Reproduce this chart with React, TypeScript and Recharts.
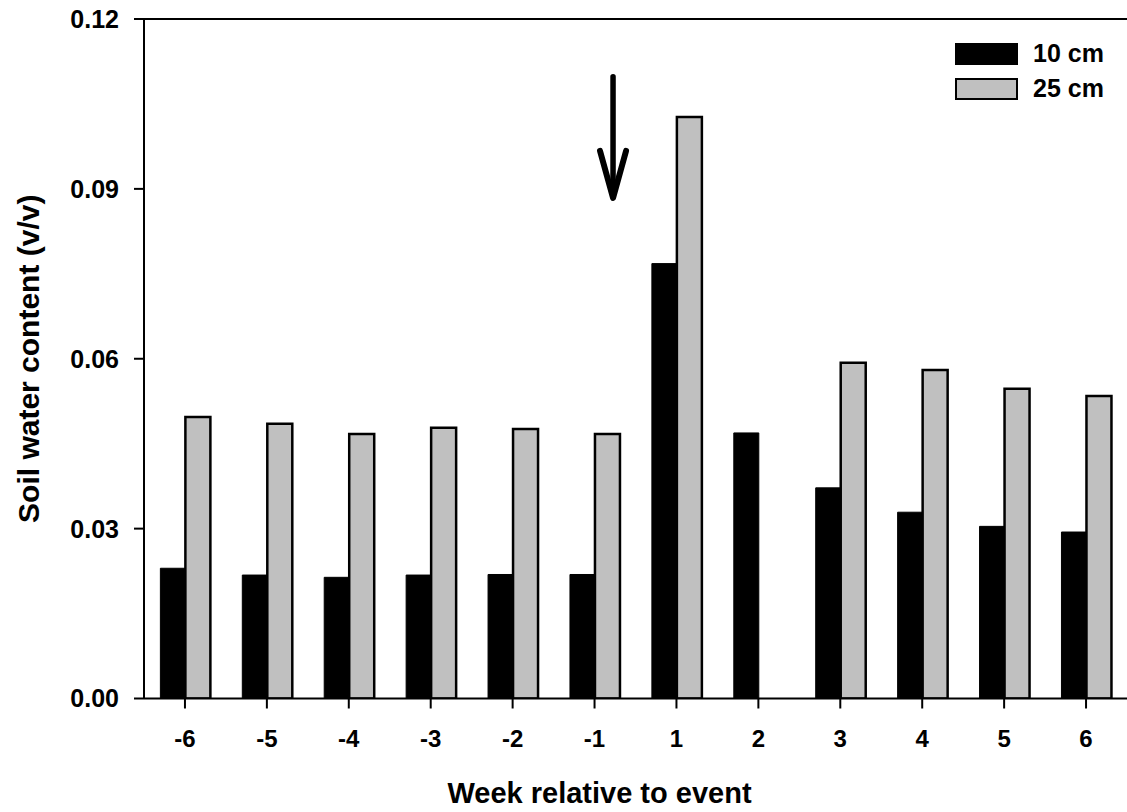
import React from "react";
import {
  BarChart,
  Bar,
  XAxis,
  YAxis,
  Legend,
  ReferenceLine,
  Label,
} from "recharts";

const weeks = ["-6", "-5", "-4", "-3", "-2", "-1", "1", "2", "3", "4", "5", "6"];
const depth10 = [0.023, 0.0218, 0.0214, 0.0218, 0.0219, 0.0219, 0.0768, 0.0469, 0.0372, 0.0329, 0.0304, 0.0294];
const depth25: (number | null)[] = [0.0497, 0.0485, 0.0467, 0.0478, 0.0476, 0.0467, 0.1027, null, 0.0593, 0.058, 0.0547, 0.0534];
const yTicks = [0, 0.03, 0.06, 0.09, 0.12];
const seriesNames = ["10 cm", "25 cm"];
// arrow annotation (event marker) in data units
const arrowWeek = "-1";
const arrowTop = 0.1098;
const arrowTip = 0.0884;

const data = weeks.map((w, i) => ({ week: w, d10: depth10[i], d25: depth25[i] }));

const FONT = '"Liberation Sans", Arial, Helvetica, sans-serif';

const ArrowShape = (props: any) => {
  const { x1, y1, x2, y2 } = props;
  const shift = 18.5;
  const x = (x1 + x2) / 2 + shift;
  const top = Math.min(y1, y2);
  const tip = Math.max(y1, y2);
  return (
    <g>
      <line x1={x} y1={top} x2={x} y2={tip - 3} stroke="#000" strokeWidth={5.5} strokeLinecap="round" />
      <polyline
        points={`${x - 13},${tip - 47} ${x},${tip} ${x + 13},${tip - 47}`}
        fill="none"
        stroke="#000"
        strokeWidth={6}
        strokeLinecap="round"
        strokeLinejoin="round"
      />
    </g>
  );
};

const LegendContent = (props: any) => {
  const payload = props.payload || [];
  return (
    <div style={{ fontFamily: FONT }}>
      {payload.map((p: any, i: number) => (
        <div key={i} style={{ display: "flex", alignItems: "center", height: 35 }}>
          <span
            style={{
              display: "inline-block",
              width: 63,
              height: 22,
              background: p.color,
              border: "2px solid #000",
              boxSizing: "border-box",
            }}
          />
          <span style={{ marginLeft: 15, fontSize: 25, fontWeight: "bold", color: "#000" }}>{p.value}</span>
        </div>
      ))}
    </div>
  );
};

export default function App() {
  return (
    <div style={{ position: "absolute", left: 0, top: 0, background: "#fff" }}>
      <BarChart
        width={1127}
        height={812}
        data={data}
        margin={{ top: 19, right: 0, bottom: 0, left: 0 }}
        barCategoryGap="20%"
        barGap={0}
      >
        <XAxis
          dataKey="week"
          height={113.5}
          axisLine={{ stroke: "#000", strokeWidth: 2 }}
          tickLine={{ stroke: "#000", strokeWidth: 2 }}
          tickSize={10}
          tickMargin={21}
          tick={{ fill: "#000", fontSize: 24, fontWeight: "bold", fontFamily: FONT }}
          interval={0}
        >
          <Label
            content={(p: any) => {
              const vb = p.viewBox;
              return (
                <text
                  x={vb.x + vb.width / 2 - 36}
                  y={vb.y + vb.height - 9}
                  textAnchor="middle"
                  fontSize={29}
                  fontWeight="bold"
                  fontFamily={FONT}
                  fill="#000"
                >
                  Week relative to event
                </text>
              );
            }}
          />
        </XAxis>
        <YAxis
          width={144}
          domain={[0, 0.12]}
          ticks={yTicks}
          tickFormatter={(v: number) => v.toFixed(2)}
          axisLine={{ stroke: "#000", strokeWidth: 2 }}
          tickLine={{ stroke: "#000", strokeWidth: 2 }}
          tickSize={10}
          tickMargin={15}
          tick={{ fill: "#000", fontSize: 25, fontWeight: "bold", fontFamily: FONT }}
          allowDataOverflow
        >
          <Label
            content={(p: any) => {
              const vb = p.viewBox;
              const cx = vb.x + 28;
              const cy = vb.y + vb.height / 2;
              return (
                <text
                  x={cx}
                  y={cy}
                  transform={`rotate(-90, ${cx}, ${cy})`}
                  textAnchor="middle"
                  dominantBaseline="central"
                  fontSize={30}
                  fontWeight="bold"
                  fontFamily={FONT}
                  fill="#000"
                >
                  Soil water content (v/v)
                </text>
              );
            }}
          />
        </YAxis>
        <ReferenceLine y={0.12} stroke="#000" strokeWidth={2} ifOverflow="visible" />
        <ReferenceLine
          segment={[
            { x: arrowWeek, y: arrowTop },
            { x: arrowWeek, y: arrowTip },
          ]}
          shape={ArrowShape}
          ifOverflow="visible"
        />
        <Legend
          layout="horizontal"
          verticalAlign="middle"
          align="center"
          content={LegendContent}
          wrapperStyle={{ position: "absolute", top: 36, left: 955, right: "auto", bottom: "auto", width: 170 }}
        />
        <Bar dataKey="d10" name={seriesNames[0]} fill="#000000" stroke="#000" strokeWidth={1} isAnimationActive={false} />
        <Bar dataKey="d25" name={seriesNames[1]} fill="#c0c0c0" stroke="#000" strokeWidth={2.5} isAnimationActive={false} />
      </BarChart>
    </div>
  );
}
